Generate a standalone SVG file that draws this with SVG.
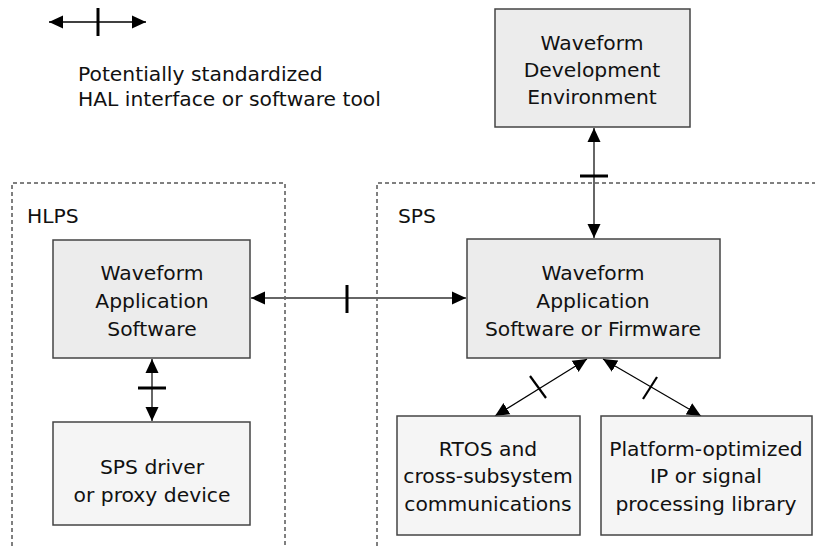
<svg xmlns="http://www.w3.org/2000/svg" width="815" height="546" viewBox="0 0 815 546">
<style>
text{font-family:"DejaVu Sans","Liberation Sans",sans-serif;font-size:20.3px;fill:#111;}
.c{text-anchor:middle;}
.box1{fill:#ececec;stroke:#444;stroke-width:1.5;}
.box2{fill:#f5f5f5;stroke:#444;stroke-width:1.5;}
.dash{fill:none;stroke:#000;stroke-width:1;stroke-dasharray:4 3;}
.gl{stroke:#666;stroke-width:2;fill:none;}
.bl{stroke:#000;stroke-width:1.2;fill:none;}
.tick{stroke:#000;stroke-width:3;}
.dtick{stroke:#000;stroke-width:2.2;}
</style>
<defs>
<marker id="ah" markerUnits="userSpaceOnUse" markerWidth="15" markerHeight="14" refX="14" refY="6.5" orient="auto-start-reverse" viewBox="0 0 15 13">
<path d="M0,0 L14,6.5 L0,13 z" fill="#000"/>
</marker>
</defs>
<rect width="815" height="546" fill="#fff"/>

<g id="legend">
<line x1="49" y1="22" x2="146" y2="22" stroke="#000" stroke-width="1.5" marker-start="url(#ah)" marker-end="url(#ah)"/>
<line class="tick" x1="98" y1="8" x2="98" y2="36"/>
<text x="78" y="81">Potentially standardized</text>
<text x="78" y="106">HAL interface or software tool</text>
</g>

<g id="hlps">
<path class="dash" d="M12,546 V183 H285 V546"/>
<text x="27" y="223">HLPS</text>
</g>
<g id="sps">
<path class="dash" d="M377,546 V183 H815"/>
<text x="398" y="223">SPS</text>
</g>

<g id="connectors">
<line class="gl" x1="594" y1="128" x2="594" y2="238" marker-start="url(#ah)" marker-end="url(#ah)"/>
<line class="tick" x1="580" y1="176" x2="608" y2="176"/>
<line class="gl" x1="251" y1="298" x2="466" y2="298" marker-start="url(#ah)" marker-end="url(#ah)"/>
<line class="tick" x1="347" y1="285" x2="347" y2="313"/>
<line class="gl" x1="152" y1="359" x2="152" y2="421" marker-start="url(#ah)" marker-end="url(#ah)"/>
<line class="tick" x1="138" y1="388" x2="166" y2="388"/>
<line class="bl" x1="587" y1="359" x2="495" y2="416" marker-start="url(#ah)" marker-end="url(#ah)"/>
<line class="dtick" x1="530" y1="376" x2="546" y2="398"/>
<line class="bl" x1="603" y1="359" x2="701" y2="416" marker-start="url(#ah)" marker-end="url(#ah)"/>
<line class="dtick" x1="657" y1="377" x2="643" y2="399"/>
</g>

<g id="wde">
<rect class="box1" x="495" y="9" width="195" height="118"/>
<text class="c" x="592" y="50">Waveform</text>
<text class="c" x="592" y="77">Development</text>
<text class="c" x="592" y="104">Environment</text>
</g>

<g id="was-hlps">
<rect class="box1" x="53" y="240" width="197" height="118"/>
<text class="c" x="152" y="280">Waveform</text>
<text class="c" x="152" y="308">Application</text>
<text class="c" x="152" y="336">Software</text>
</g>

<g id="sps-driver">
<rect class="box2" x="53" y="422" width="197" height="103"/>
<text class="c" x="152" y="474">SPS driver</text>
<text class="c" x="152" y="502">or proxy device</text>
</g>

<g id="was-sps">
<rect class="box1" x="467" y="239" width="253" height="119"/>
<text class="c" x="593" y="280">Waveform</text>
<text class="c" x="593" y="308">Application</text>
<text class="c" x="593" y="336">Software or Firmware</text>
</g>

<g id="rtos">
<rect class="box2" x="397" y="416" width="183" height="119"/>
<text class="c" x="488" y="456">RTOS and</text>
<text class="c" x="488" y="483">cross-subsystem</text>
<text class="c" x="488" y="511">communications</text>
</g>

<g id="platform">
<rect class="box2" x="601" y="416" width="211" height="119"/>
<text class="c" x="706" y="456">Platform-optimized</text>
<text class="c" x="706" y="483">IP or signal</text>
<text class="c" x="706" y="511">processing library</text>
</g>
</svg>
